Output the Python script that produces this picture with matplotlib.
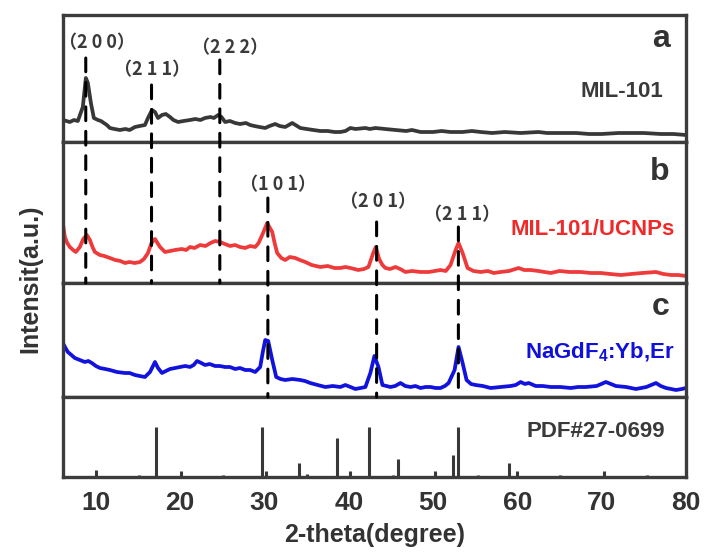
import matplotlib
matplotlib.use('Agg')
import matplotlib.pyplot as plt
from matplotlib.patches import ConnectionPatch

plt.rcParams['font.family'] = ['Liberation Sans', 'DejaVu Sans']
plt.rcParams['font.weight'] = 'bold'
plt.rcParams['mathtext.fontset'] = 'custom'
plt.rcParams['mathtext.bf'] = 'Liberation Sans:bold'
plt.rcParams['mathtext.rm'] = 'Liberation Sans:bold'

# MIL-101 (a)
a_x = [6.08, 6.5, 6.91, 7.4, 7.86, 8.45, 8.81, 9.05, 9.41, 9.76,
       10.24, 10.6, 10.95, 11.3, 11.66, 12.2, 12.85, 13.5, 14.0, 14.64,
       15.2, 15.82, 16.18, 16.66, 17.01, 17.37, 17.84, 18.3, 18.79, 19.2,
       19.75, 20.4, 21.17, 21.8, 22.4, 22.95, 23.6, 24.0, 24.5, 24.9,
       25.33, 25.9, 26.52, 27.1, 27.8, 28.3, 28.8, 29.4, 30.09, 30.6,
       31.27, 31.8, 32.46, 33.29, 34.25, 35.0, 35.8, 36.62, 37.5, 38.3,
       39.0, 39.6, 40.19, 40.8, 41.97, 42.5, 43.16, 44.3, 45.54, 46.8,
       47.5, 48.51, 50.0, 51.0, 52.07, 53.5, 54.6, 55.64, 57.0, 58.5,
       60.39, 62.5, 63.5, 65, 67, 68.5, 70, 72, 73.5, 75,
       77, 78.5, 80]
a_y = [22, 21, 20, 22, 21, 35, 64, 59, 39, 24,
       22, 21, 19, 17, 14, 13, 12, 13, 12, 15,
       16, 17, 24, 32, 30, 24, 27, 28, 25, 22,
       20, 21, 22, 23, 22, 24, 25, 24, 27, 25,
       20, 21, 19, 18, 19, 17, 16, 15, 14, 16,
       18, 16, 15, 19, 14, 13, 12, 11, 11, 10,
       10, 11, 14, 13, 14, 13, 14, 13, 12, 11,
       12, 10, 10, 11, 10, 10, 11, 10, 9, 10,
       9, 10, 9, 9, 9, 8, 8, 9, 9, 9,
       8, 8, 7]

# MIL-101/UCNPs (b)
b_x = [6.08, 6.32, 6.6, 6.91, 7.3, 7.62, 8.10, 8.5, 8.93, 9.29,
       9.6, 9.88, 10.48, 11.0, 11.66, 12.3, 12.9, 13.45, 14.0, 14.6,
       15.23, 15.7, 16.18, 16.6, 17.01, 17.61, 18.20, 18.8, 19.39, 20.2,
       20.7, 21.17, 21.7, 22.36, 23.0, 23.6, 24.14, 24.74, 25.3, 25.93,
       26.5, 27.1, 27.71, 28.3, 28.90, 29.3, 29.73, 30.32, 30.92, 31.2,
       31.51, 32.0, 32.46, 33.0, 33.65, 34.2, 34.84, 35.6, 36.62, 37.5,
       38.3, 39.00, 39.6, 40.19, 41.14, 41.8, 42.33, 42.9, 43.2, 43.6,
       43.99, 44.35, 44.9, 45.54, 46.1, 46.72, 47.5, 48.51, 49.5, 50.2,
       50.88, 51.5, 52.07, 52.67, 53.02, 53.50, 54.09, 54.8, 55.64, 56.5,
       57.2, 58.01, 59.0, 60.15, 60.8, 61.58, 62.5, 63.96, 65.0, 66.2,
       67.52, 68.7, 69.90, 71.0, 72.28, 73.5, 74.8, 76.44, 77.3, 78.22,
       79.1, 80]
b_y = [60, 46, 40, 36, 33, 31, 36, 44, 48, 43,
       36, 31, 28, 27, 25, 23, 22, 20, 21, 20,
       21, 24, 30, 40, 44, 36, 31, 32, 33, 34,
       33, 36, 35, 38, 37, 40, 42, 41, 39, 37,
       38, 36, 35, 37, 36, 40, 48, 60, 51, 40,
       30, 25, 23, 26, 25, 23, 21, 18, 16, 17,
       15, 15, 16, 15, 13, 14, 16, 30, 36, 24,
       18, 15, 14, 16, 14, 11, 12, 11, 11, 12,
       13, 12, 18, 33, 40, 30, 15, 12, 11, 12,
       10, 11, 12, 15, 13, 13, 12, 10, 12, 11,
       11, 10, 10, 9, 8, 9, 10, 11, 9, 8,
       8, 7]

# NaGdF4:Yb,Er (c)
c_x = [6.08, 6.4, 6.67, 7.1, 7.50, 8.1, 8.69, 9.1, 9.52, 10.0,
       10.48, 11.1, 11.66, 12.5, 13.45, 14.0, 14.64, 15.2, 15.82, 16.42,
       17.01, 17.37, 17.84, 18.3, 18.79, 19.4, 19.98, 20.6, 21.17, 21.6,
       22.00, 22.5, 22.95, 23.5, 24.14, 24.7, 25.33, 25.9, 26.52, 27.1,
       27.71, 28.3, 28.90, 29.49, 29.8, 30.09, 30.44, 30.92, 31.39, 31.9,
       32.46, 33.3, 34.25, 34.8, 35.43, 36.3, 37.22, 38.1, 39.00, 39.59,
       40.2, 40.78, 41.4, 41.97, 42.56, 43.04, 43.52, 43.99, 44.94, 45.5,
       46.13, 46.7, 47.32, 47.9, 48.51, 49.1, 49.70, 50.3, 50.88, 51.4,
       51.84, 52.55, 53.02, 53.50, 53.97, 54.5, 55.04, 55.9, 56.83, 58.0,
       59.20, 59.8, 60.39, 60.9, 61.34, 62.17, 63.0, 63.96, 65.1, 66.33,
       67.2, 68.12, 69.4, 70.49, 71.1, 71.68, 72.9, 74.06, 75.3, 76.44,
       77.0, 77.63, 78.82, 79.5, 80]
c_y = [54, 49, 45, 42, 39, 37, 35, 36, 34, 31,
       29, 28, 27, 25, 24, 24, 22, 21, 20, 25,
       35, 29, 24, 26, 28, 29, 30, 31, 30, 32,
       36, 34, 32, 33, 31, 31, 30, 30, 28, 29,
       27, 27, 25, 30, 45, 57, 56, 37, 20, 18,
       17, 18, 17, 16, 14, 12, 10, 11, 10, 12,
       10, 8, 9, 10, 24, 41, 30, 12, 10, 11,
       14, 11, 10, 11, 9, 10, 10, 9, 9, 11,
       14, 27, 50, 34, 17, 13, 12, 11, 9, 10,
       11, 12, 15, 13, 14, 11, 11, 10, 10, 9,
       10, 10, 11, 15, 13, 11, 10, 8, 10, 14,
       11, 9, 7, 8, 9]

# PDF#27-0699 reference sticks
pdf_pos = [10.0, 15.1, 17.1, 20.1, 25.1, 29.7, 30.2, 34.1, 35.1, 38.6, 40.2,
           42.4, 45.3, 45.8, 50.2, 52.4, 53.0, 55.3, 59.0, 60.0, 65.1, 70.3, 75.4]
pdf_h = [7, 2, 50, 6, 2, 50, 6, 14, 3, 39, 6,
         50, 2, 18, 6, 22, 50, 2, 14, 6, 2, 6, 2]

# indexed peaks
peaks_hkl = ['（2 0 0）', '（2 1 1）', '（2 2 2）', '（1 0 1）', '（2 0 1）', '（2 1 1）']
peaks_pos = [8.8, 16.6, 24.7, 30.4, 43.3, 53.0]
peaks_panel = [0, 0, 0, 1, 1, 1]
peaks_end = [1, 1, 1, 2, 2, 2]
line_top = [84, 57, 82, 85, 61, 56]
label_x = [10.1, 16.7, 25.9, 31.6, 43.5, 53.4]
label_y = [99, 72, 94, 98, 81, 68]

panel_letters = ['a', 'b', 'c', '']
panel_names = ['MIL-101', 'MIL-101/UCNPs', r'NaGdF$_\mathbf{4}$:Yb,Er', 'PDF#27-0699']
name_colors = ['#3a3a3a', '#ee2a2a', '#1010dd', '#3a3a3a']
panel_tops = [127, 141, 114, 80]

fig = plt.figure(figsize=(7.05, 5.58), dpi=100)
gs = fig.add_gridspec(4, 1, height_ratios=panel_tops, hspace=0,
                      left=63 / 705, right=686 / 705,
                      bottom=1 - 477 / 558, top=1 - 15 / 558)
axes = [fig.add_subplot(gs[i]) for i in range(4)]

axes[0].plot(a_x, a_y, color='#383838', lw=2.7)
axes[1].plot(b_x, b_y, color='#ee3a3a', lw=2.7)
axes[2].plot(c_x, c_y, color='#1212dd', lw=2.7)
axes[3].vlines(pdf_pos, 0, pdf_h, color='#383838', lw=2.2)

name_y = [0.354, 0.34, 0.34, 0.5]
name_x = [0.963, 0.982, 0.982, 0.966]
letter_y = [0.75, 0.73, 0.72]
for i, ax in enumerate(axes):
    ax.set_xlim(6.1, 80)
    ax.set_ylim(0, panel_tops[i])
    ax.set_yticks([])
    for s in ax.spines.values():
        s.set_linewidth(2.4)
        s.set_color('#3c3c3c')
    if i < 3:
        ax.set_xticks([])
        ax.text(0.974, letter_y[i], panel_letters[i], transform=ax.transAxes,
                ha='right', va='baseline', fontsize=23, fontweight='bold',
                color='#333333')
    ax.text(name_x[i], name_y[i], panel_names[i], transform=ax.transAxes,
            ha='right', va='baseline', fontsize=16, fontweight='bold',
            color=name_colors[i])

axes[3].set_xticks([10, 20, 30, 40, 50, 60, 70, 80])
axes[3].tick_params(axis='x', length=0, pad=10, labelsize=19, labelcolor='#333333')
for lab in axes[3].get_xticklabels():
    lab.set_fontweight('bold')
axes[3].set_xlabel('2-theta(degree)', fontsize=18, fontweight='bold',
                   color='#333333', labelpad=6)
fig.text(0.043, 0.5, 'Intensit(a.u.)', rotation=90, ha='center', va='center',
         fontsize=18, fontweight='bold', color='#333333')

for i in range(len(peaks_pos)):
    top_ax = axes[peaks_panel[i]]
    bot_ax = axes[peaks_end[i]]
    con = ConnectionPatch(xyA=(peaks_pos[i], line_top[i]), coordsA=top_ax.transData,
                          xyB=(peaks_pos[i], 0), coordsB=bot_ax.transData,
                          color='black', lw=2.2, linestyle=(0, (4.5, 3.5)), zorder=5)
    fig.add_artist(con)
    top_ax.text(label_x[i], label_y[i], peaks_hkl[i], ha='center', va='center',
                fontsize=13, family=['Noto Sans CJK SC', 'DejaVu Sans'],
                fontweight='bold', color='#3a3a3a')

fig.savefig('out.png', dpi=100)
